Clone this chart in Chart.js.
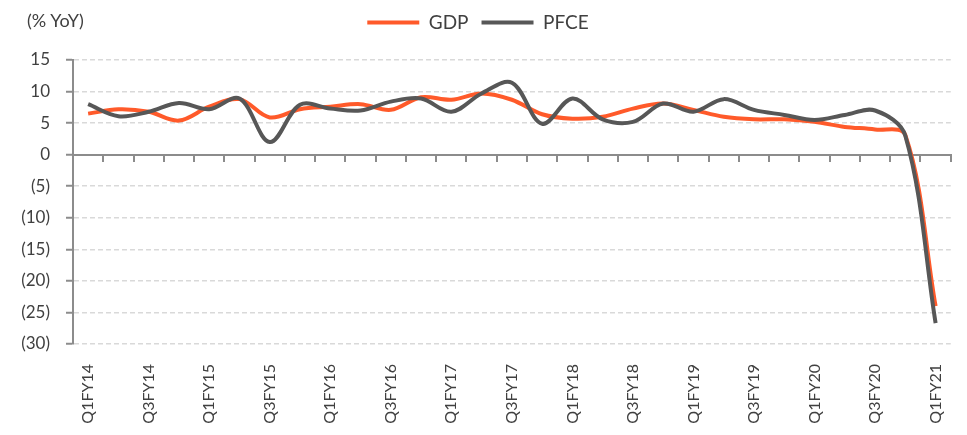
<!DOCTYPE html>
<html>
<head>
<meta charset="utf-8">
<script src="https://cdn.jsdelivr.net/npm/chart.js@4.4.0/dist/chart.umd.min.js"></script>
<style>
  html, body { margin: 0; padding: 0; background: #fff; }
  #wrap { position: relative; width: 967px; height: 435px; }
  #unit { position: absolute; left: 27px; top: 9px; font: 18px Lato, sans-serif; color: #404040; }
</style>
</head>
<body>
<div id="wrap">
  <canvas id="chart"></canvas>
  <div id="unit">(% YoY)</div>
</div>
<script>
// Quarterly growth, % YoY
const quarters = [
  'Q1FY14', 'Q2FY14', 'Q3FY14', 'Q4FY14',
  'Q1FY15', 'Q2FY15', 'Q3FY15', 'Q4FY15',
  'Q1FY16', 'Q2FY16', 'Q3FY16', 'Q4FY16',
  'Q1FY17', 'Q2FY17', 'Q3FY17', 'Q4FY17',
  'Q1FY18', 'Q2FY18', 'Q3FY18', 'Q4FY18',
  'Q1FY19', 'Q2FY19', 'Q3FY19', 'Q4FY19',
  'Q1FY20', 'Q2FY20', 'Q3FY20', 'Q4FY20',
  'Q1FY21'
];
const gdp = [6.5, 7.2, 6.8, 5.4, 7.6, 8.8, 5.9, 7.2, 7.6, 8.0, 7.1, 9.1, 8.7, 9.7, 8.7,
             6.4, 5.7, 6.0, 7.3, 8.1, 7.1, 6.0, 5.6, 5.6, 5.2, 4.4, 4.0, 3.1, -24.0];
const pfce = [8.0, 6.1, 6.8, 8.2, 7.2, 8.9, 2.0, 7.9, 7.3, 7.0, 8.4, 8.9, 6.8, 9.7, 11.4,
              4.9, 8.9, 5.6, 5.2, 8.1, 6.8, 8.8, 7.1, 6.3, 5.5, 6.3, 7.0, 3.0, -26.7];

const yMin = -30;
const yMax = 15;
const yStep = 5;

const textColor = '#404040';
const axisColor = '#8c8c8c';
const gridColor = '#d9d9d9';

// give the legend a fixed block height so the plot starts lower
const legendSpace = {
    id: 'legendSpace',
    beforeInit(chart) {
        const fit = chart.legend.fit;
        chart.legend.fit = function () {
            fit.call(this);
            this.height = 60;
        };
    }
};

const ctx = document.getElementById('chart').getContext('2d');
const chart = new Chart(ctx, {
    type: 'line',
    data: {
        labels: quarters,
        datasets: [
            { label: 'GDP', data: gdp, borderColor: '#ff5a2a', backgroundColor: '#ff5a2a',
              borderWidth: 4, pointRadius: 0, tension: 0.35, order: 2 },
            { label: 'PFCE', data: pfce, borderColor: '#575757', backgroundColor: '#575757',
              borderWidth: 4, pointRadius: 0, tension: 0.35, order: 1 }
        ]
    },
    plugins: [legendSpace],
    options: {
        responsive: true,
        maintainAspectRatio: false,
        animation: false,
        layout: { padding: { top: 0, right: 11, left: 0, bottom: 0 } },
        plugins: {
            tooltip: { enabled: false },
            legend: {
                position: 'top',
                labels: {
                    usePointStyle: true,
                    pointStyle: 'line',
                    pointStyleWidth: 52,
                    boxHeight: 19,
                    padding: 13,
                    color: textColor,
                    font: { family: 'Lato', size: 19 },
                    sort: (a, b) => a.datasetIndex - b.datasetIndex
                }
            }
        },
        scales: {
            x: {
                type: 'category',
                offset: true,
                grid: { display: false },
                border: { display: false },
                afterFit: s => { s.height = 91; },
                ticks: {
                    autoSkip: false,
                    minRotation: 90,
                    maxRotation: 90,
                    padding: 12,
                    color: textColor,
                    font: { family: 'Lato', size: 16 },
                    callback: (val, i) => (i % 2 === 0 ? quarters[i] : '')
                }
            },
            // axis line at zero with tick marks between quarters
            x0: {
                type: 'category',
                labels: quarters,
                offset: true,
                position: { y: 0 },
                grid: { offset: true, drawOnChartArea: false, drawTicks: true, tickLength: 6,
                        color: axisColor, lineWidth: 2 },
                border: { display: true, color: axisColor, width: 2 },
                ticks: { display: false }
            },
            y: {
                min: yMin,
                max: yMax,
                afterFit: s => { s.width = 73; },
                grid: {
                    color: c => (c.tick && c.tick.value === 0 ? 'rgba(0,0,0,0)' : gridColor),
                    lineWidth: 1.5,
                    drawTicks: true,
                    tickLength: 7,
                    tickColor: axisColor,
                    tickWidth: 2
                },
                border: { display: true, color: axisColor, width: 2, dash: [5, 3] },
                ticks: {
                    stepSize: yStep,
                    padding: 16,
                    color: textColor,
                    font: { family: 'Lato', size: 17 },
                    callback: v => (v < 0 ? '(' + Math.abs(v) + ')' : String(v))
                }
            }
        }
    }
});
</script>
</body>
</html>
